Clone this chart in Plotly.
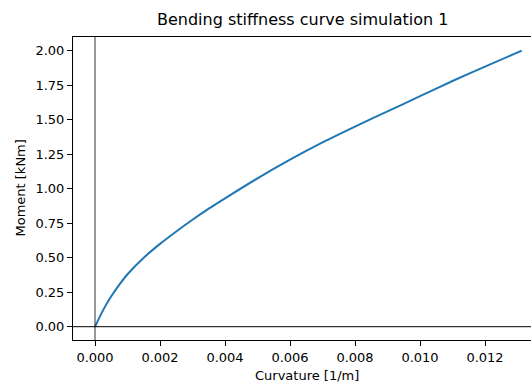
import plotly.graph_objects as go

curvature = [0, 0.00025, 0.0005, 0.00075, 0.001, 0.0015, 0.002, 0.0025, 0.003, 0.0035,
             0.004, 0.005, 0.006, 0.007, 0.008, 0.009, 0.010, 0.011, 0.012, 0.01313]
moment = [0, 0.12, 0.22, 0.305, 0.38, 0.50, 0.60, 0.69, 0.775, 0.855,
          0.93, 1.075, 1.21, 1.335, 1.45, 1.56, 1.67, 1.78, 1.885, 2.0]

x_ticks = [0, 0.002, 0.004, 0.006, 0.008, 0.010, 0.012]
y_ticks = [0, 0.25, 0.5, 0.75, 1.0, 1.25, 1.5, 1.75, 2.0]

title_text = "Bending stiffness curve simulation 1"
x_label = "Curvature [1/m]"
y_label = "Moment [kNm]"

FONT = "DejaVu Sans"

fig = go.Figure()
fig.add_trace(go.Scatter(x=curvature, y=moment, mode="lines",
                         line=dict(color="#1f77b4", width=2, shape="spline", smoothing=0.8),
                         showlegend=False, hoverinfo="skip"))

fig.add_shape(type="line", xref="x", yref="paper", x0=0, x1=0, y0=0, y1=1,
              line=dict(color="#333333", width=1))
fig.add_shape(type="line", xref="paper", yref="y", x0=0, x1=1, y0=0, y1=0,
              line=dict(color="black", width=1))

fig.update_layout(
    width=531, height=383,
    margin=dict(l=73, r=0, t=37, b=43),
    paper_bgcolor="white", plot_bgcolor="white",
    font=dict(family=FONT, size=13, color="black"),
    xaxis=dict(range=[-0.000677, 0.013415], tickvals=x_ticks,
               ticktext=[f"{v:.3f}" for v in x_ticks],
               showgrid=False, zeroline=False, showline=True, linecolor="black",
               linewidth=1, mirror=True, ticks="outside", ticklen=5, tickwidth=1,
               tickcolor="black", tickfont=dict(family=FONT, size=13, color="black")),
    yaxis=dict(range=[-0.0964, 2.099], tickvals=y_ticks,
               ticktext=[f"{v:.2f}" for v in y_ticks],
               showgrid=False, zeroline=False, showline=True, linecolor="black",
               linewidth=1, mirror=False, ticks="outside", ticklen=5, tickwidth=1,
               tickcolor="black", tickfont=dict(family=FONT, size=13, color="black")),
    annotations=[
        dict(text=title_text, xref="paper", yref="paper", x=0.5, y=1, yshift=6,
             xanchor="center", yanchor="bottom", showarrow=False,
             font=dict(family=FONT, size=16, color="black")),
        dict(text=x_label, xref="paper", yref="paper", x=(307 - 73) / 458, y=0,
             yshift=-26, xanchor="center", yanchor="top", showarrow=False,
             font=dict(family=FONT, size=13, color="black")),
        dict(text=y_label, xref="paper", yref="paper", x=(20 - 73) / 458, y=0.5,
             xanchor="center", yanchor="middle", textangle=-90, showarrow=False,
             font=dict(family=FONT, size=13, color="black")),
    ],
)

fig.write_html("out.html")
